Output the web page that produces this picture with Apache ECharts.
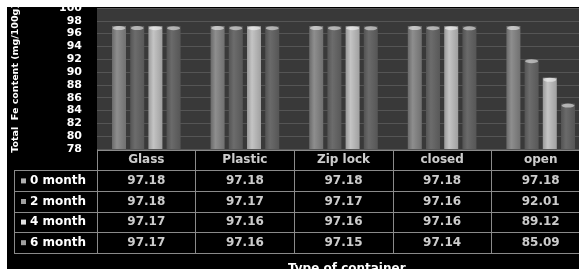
<!DOCTYPE html>
<html>
<head>
<meta charset="utf-8">
<script src="https://cdn.jsdelivr.net/npm/echarts@6/dist/echarts.min.js"></script>
<style>
  html, body { margin: 0; padding: 0; background: #fff; overflow: hidden; }
  .info { position: absolute; left: 7px; top: 7px; width: 584px; height: 262px; background: #000; }
</style>
</head>
<body>
<div class="info"></div>
<script>
// 容器类型与各月份铁含量
var containers = ['Glass', 'Plastic', 'Zip lock', 'closed', 'open']
var months = ['0 month', '2 month', '4 month', '6 month']
var month0 = [97.18, 97.18, 97.18, 97.18, 97.18]
var month2 = [97.18, 97.17, 97.17, 97.16, 92.01]
var month4 = [97.17, 97.16, 97.16, 97.16, 89.12]
var month6 = [97.17, 97.16, 97.15, 97.14, 85.09]
var yTicks = { min: 78, max: 100, step: 2 };

(function () {
    var allValues = [month0, month2, month4, month6]
    // 柱子渐变色
    var barColors = [
        ['#6a6a6a', '#8e8e8e', '#707070'],
        ['#555555', '#6c6c6c', '#585858'],
        ['#9a9a9a', '#c4c4c4', '#a0a0a0'],
        ['#535353', '#6a6a6a', '#565656']
    ]
    var keyColors = ['#b0b0b0', '#a0a0a0', '#e0e0e0', '#a0a0a0']
    var font = 'DejaVu Sans'

    var myChart = echarts.init(document.querySelector('.info'))

    var series = []
    allValues.forEach(function (vals, i) {
        series.push({
            name: months[i],
            type: 'bar',
            barWidth: 14,
            barGap: '30%',
            data: vals,
            itemStyle: {
                color: new echarts.graphic.LinearGradient(0, 0, 1, 0, [
                    { offset: 0, color: barColors[i][0] },
                    { offset: 0.35, color: barColors[i][1] },
                    { offset: 1, color: barColors[i][2] }
                ])
            }
        })
    })
    // 柱顶高光
    allValues.forEach(function (vals, i) {
        series.push({
            type: 'pictorialBar',
            barWidth: 14,
            barGap: '30%',
            symbol: 'circle',
            symbolSize: [13, 4],
            symbolPosition: 'end',
            symbolOffset: [0, 0],
            z: 5,
            itemStyle: { color: 'rgba(255,255,255,0.5)' },
            data: vals
        })
    })

    // 表格内容
    var cells = []
    containers.forEach(function (c, ci) {
        cells.push({ value: [ci, 0], text: c })
        allValues.forEach(function (vals, r) {
            cells.push({ value: [ci, r + 1], text: vals[ci].toFixed(2) })
        })
    })
    series.push({
        type: 'scatter',
        xAxisIndex: 1,
        yAxisIndex: 1,
        symbolSize: 1,
        itemStyle: { color: 'transparent' },
        silent: true,
        label: {
            show: true,
            position: 'inside',
            color: '#fff',
            fontFamily: font,
            fontWeight: 'bold',
            fontSize: 12,
            formatter: function (p) { return p.data.text }
        },
        data: cells
    })

    var rich = { t: { color: '#fff', fontFamily: font, fontWeight: 'bold', fontSize: 12, padding: [0, 0, 0, 4] } }
    keyColors.forEach(function (c, i) {
        rich['s' + i] = { width: 5, height: 5, backgroundColor: c }
    })

    var lineColor = '#8a8a8a'

    option = {
        backgroundColor: '#000',
        animation: false,
        title: {
            text: 'Type of container',
            left: 276,
            top: 251,
            textStyle: { color: '#fff', fontFamily: font, fontWeight: 'bold', fontSize: 12 }
        },
        grid: [
            { left: 90, top: 1, width: 493, height: 141, show: true, backgroundColor: '#393939', borderWidth: 0, outerBoundsMode: 'none' },
            { left: 90, top: 143, width: 493, height: 103, outerBoundsMode: 'none' },
            { left: 7, top: 163.6, width: 83, height: 82.4, outerBoundsMode: 'none' }
        ],
        xAxis: [
            {
                type: 'category', gridIndex: 0, data: containers,
                axisLine: { show: false }, axisTick: { show: false }, axisLabel: { show: false }
            },
            {
                type: 'category', gridIndex: 1, data: containers,
                axisLine: { show: false }, axisTick: { show: false }, axisLabel: { show: false },
                splitLine: { show: true, lineStyle: { color: lineColor } }
            },
            { type: 'value', gridIndex: 2, show: false }
        ],
        yAxis: [
            {
                type: 'value', gridIndex: 0,
                min: yTicks.min, max: yTicks.max, interval: yTicks.step,
                name: 'Total  Fe content (mg/100g)',
                nameLocation: 'middle',
                nameGap: 76,
                nameTextStyle: { color: '#fff', fontFamily: font, fontWeight: 'bold', fontSize: 9.5 },
                axisLine: { show: false }, axisTick: { show: false },
                axisLabel: { color: '#fff', fontFamily: font, fontWeight: 'bold', fontSize: 11, margin: 15 },
                splitLine: { lineStyle: { color: '#555' } }
            },
            {
                type: 'category', gridIndex: 1, inverse: true,
                data: [''].concat(months),
                axisLine: { show: true, lineStyle: { color: lineColor } },
                axisTick: { show: false }, axisLabel: { show: false },
                splitLine: { show: true, lineStyle: { color: lineColor } }
            },
            {
                type: 'category', gridIndex: 2, inverse: true,
                data: months,
                axisLine: { show: true, lineStyle: { color: lineColor } },
                axisTick: { show: false },
                axisLabel: {
                    inside: true, margin: 7,
                    formatter: function (v, i) { return '{s' + i + '|}{t|' + v + '}' },
                    rich: rich
                },
                splitLine: { show: true, lineStyle: { color: lineColor } }
            }
        ],
        series: series
    }

    myChart.setOption(option)
    window.addEventListener('resize', function () {
        myChart.resize()
    })
})()
</script>
</body>
</html>
